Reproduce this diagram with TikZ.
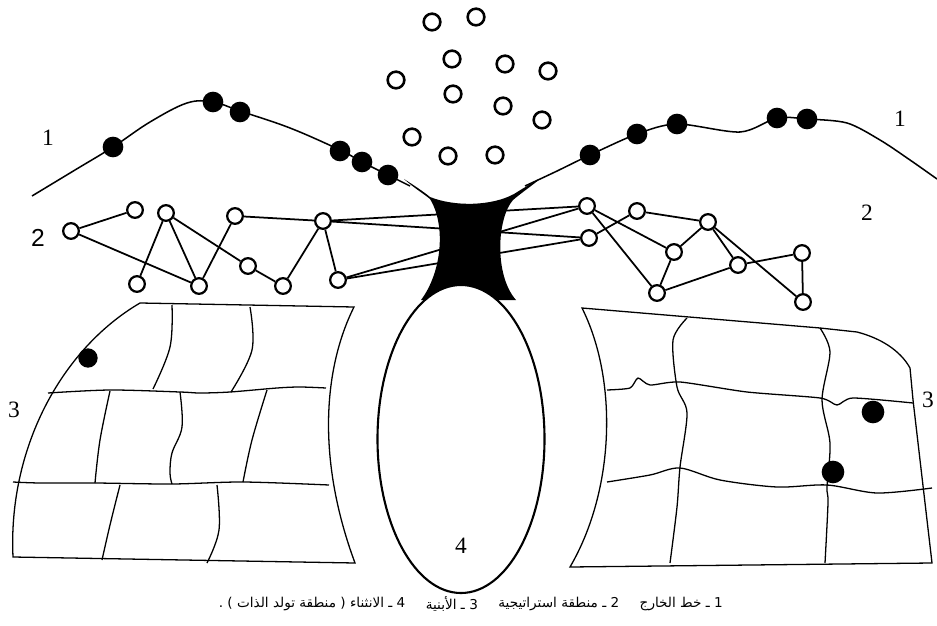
\documentclass[tikz,border=0pt]{standalone}
\usepackage{fontspec}
\setmainfont{Liberation Serif}
\setsansfont{Liberation Sans}
\newfontfamily\arabicfont[Script=Arabic]{DejaVu Sans}
\TeXXeTstate=1
\usetikzlibrary{shapes.geometric}
\begin{document}
\begin{tikzpicture}[x=0.03cm,y=-0.03cm,
  blackdot/.style={circle,fill=black,inner sep=0pt,minimum size=0.62cm},
  ring/.style={circle,draw,line width=2.2pt,inner sep=0pt,minimum size=0.5cm},
  netnode/.style={circle,draw,fill=white,line width=1.9pt,inner sep=0pt,minimum size=0.47cm},
  netline/.style={line width=1.5pt},
  rimline/.style={line width=1.3pt},
  gridline/.style={line width=1.1pt},
  numlbl/.style={font=\fontsize{20}{20}\selectfont,inner sep=0pt},
  captxt/.style={font=\arabicfont\fontsize{11.6}{14}\selectfont,inner sep=0pt,anchor=east}
]
\useasboundingbox (0,0) rectangle (937,626);
\fill[white] (0,0) rectangle (937,626);

% ---- line 1 (outside line)
\draw[rimline] plot[smooth,tension=0.6] coordinates {(32,196) (75,170) (113,147) (150,122) (187,103) (213,102) (240,111) (290,128) (340,150) (362,162) (388,175) (410,186)};
\draw[rimline] plot[smooth,tension=0.5] coordinates {(525,186) (555,172) (590,155) (637,134) (677,124) (740,132) (777,118) (807,119) (847,123) (880,140) (910,160) (937,179)};

\node[blackdot] (l1) at (113,147) {};
\node[blackdot] (l2) at (213,102) {};
\node[blackdot] (l3) at (240,112) {};
\node[blackdot] (l4) at (340,151) {};
\node[blackdot] (l5) at (362,162) {};
\node[blackdot] (l6) at (388,175) {};
\node[blackdot] (r1) at (590,155) {};
\node[blackdot] (r2) at (637,134) {};
\node[blackdot] (r3) at (677,124) {};
\node[blackdot] (r4) at (777,118) {};
\node[blackdot] (r5) at (807,119) {};

% ---- free circles at the top
\node[ring] (h1) at (432,22) {};
\node[ring] (h2) at (476,17) {};
\node[ring] (h3) at (452,59) {};
\node[ring] (h4) at (505,64) {};
\node[ring] (h5) at (548,71) {};
\node[ring] (h6) at (396,80) {};
\node[ring] (h7) at (453,94) {};
\node[ring] (h8) at (503,106) {};
\node[ring] (h9) at (542,120) {};
\node[ring] (h10) at (412,137) {};
\node[ring] (h11) at (448,156) {};
\node[ring] (h12) at (495,155) {};

% ---- network nodes
\node[netnode] (a) at (71,231) {};
\node[netnode] (b) at (135,210) {};
\node[netnode] (c) at (166,213) {};
\node[netnode] (d) at (137,284) {};
\node[netnode] (e) at (199,286) {};
\node[netnode] (f) at (235,216) {};
\node[netnode] (g) at (248,266) {};
\node[netnode] (h) at (283,286) {};
\node[netnode] (i) at (323,221) {};
\node[netnode] (j) at (338,280) {};
\node[netnode] (R1) at (587,206) {};
\node[netnode] (R2) at (589,238) {};
\node[netnode] (R3) at (637,211) {};
\node[netnode] (R4) at (674,252) {};
\node[netnode] (R5) at (708,222) {};
\node[netnode] (R6) at (738,265) {};
\node[netnode] (R7) at (657,293) {};
\node[netnode] (R8) at (802,253) {};
\node[netnode] (R9) at (803,302) {};

\draw[netline] (a) -- (b);
\draw[netline] (a) -- (e);
\draw[netline] (c) -- (d);
\draw[netline] (c) -- (e);
\draw[netline] (c) -- (g);
\draw[netline] (f) -- (e);
\draw[netline] (g) -- (h);
\draw[netline] (h) -- (i);
\draw[netline] (i) -- (j);
\draw[netline] (f) -- (i);
\draw[netline] (i) -- (R1);
\draw[netline] (i) -- (R2);
\draw[netline] (j) -- (R1);
\draw[netline] (j) -- (R2);
\draw[netline] (R1) -- (R7);
\draw[netline] (R1) -- (R4);
\draw[netline] (R2) -- (R3);
\draw[netline] (R3) -- (R5);
\draw[netline] (R4) -- (R5);
\draw[netline] (R4) -- (R7);
\draw[netline] (R5) -- (R6);
\draw[netline] (R5) -- (R9);
\draw[netline] (R7) -- (R6);
\draw[netline] (R6) -- (R8);
\draw[netline] (R8) -- (R9);

% ---- black neck
\fill[black] (404,179) .. controls (415,186) and (424,192) .. (430,197)
  .. controls (455,207) and (492,206) .. (514,194)
  .. controls (522,189) and (530,184) .. (540,179)
  .. controls (530,187) and (520,194) .. (513,200)
  .. controls (497,218) and (494,275) .. (516,300)
  -- (421,300)
  .. controls (442,272) and (446,225) .. (430,199)
  .. controls (424,194) and (414,188) .. (404,179) -- cycle;

% ---- fold (ellipse)
\node[ellipse,draw,fill=white,line width=1.8pt,inner sep=0pt,minimum width=5.01cm,minimum height=9.24cm] (core) at (461,439) {};

% ---- left structures
\draw[gridline] (140,303) -- (354,307) .. controls (325,365) and (315,455) .. (355,563) -- (13,557) .. controls (8,450) and (60,350) .. (140,303) -- cycle;
\draw[gridline] plot[smooth,tension=0.5] coordinates {(48,393) (110,390) (180,392) (200,393) (230,392) (277,388) (300,387) (326,388)};
\draw[gridline] plot[smooth,tension=0.5] coordinates {(13,482) (40,483) (95,483) (172,484) (243,482) (329,485)};
\draw[gridline] plot[smooth,tension=0.6] coordinates {(172,305) (170,347) (153,389)};
\draw[gridline] plot[smooth,tension=0.6] coordinates {(250,307) (252,350) (231,392)};
\draw[gridline] plot[smooth,tension=0.6] coordinates {(110,391) (100,440) (95,483)};
\draw[gridline] plot[smooth,tension=0.6] coordinates {(180,392) (182,427) (172,453) (170,473) (172,484)};
\draw[gridline] plot[smooth,tension=0.6] coordinates {(267,390) (252,440) (243,482)};
\draw[gridline] plot[smooth,tension=0.6] coordinates {(120,485) (110,525) (102,560)};
\draw[gridline] plot[smooth,tension=0.6] coordinates {(217,485) (219,530) (207,563)};
\node[blackdot,minimum size=0.58cm] (g1) at (88,358) {};

% ---- right structures
\draw[gridline] (582,308) -- (820,328) -- (857,332) .. controls (880,338) and (900,350) .. (910,368) -- (913,400) -- (932,563) -- (570,567) .. controls (615,490) and (618,380) .. (582,308) -- cycle;
\draw[gridline] plot[smooth,tension=0.4] coordinates {(607,390) (630,388) (638,378) (650,385) (680,382) (747,392) (820,398) (837,405) (853,398) (913,403)};
\draw[gridline] plot[smooth,tension=0.5] coordinates {(607,482) (650,475) (680,468) (720,480) (777,487) (827,485) (877,493) (932,488)};
\draw[gridline] plot[smooth,tension=0.5] coordinates {(687,318) (673,340) (677,387) (687,413) (680,467) (677,507) (670,563)};
\draw[gridline] plot[smooth,tension=0.5] coordinates {(820,328) (830,352) (822,400) (830,443) (827,487) (828,503) (825,563)};
\node[blackdot,minimum size=0.68cm] (g2) at (873,412) {};
\node[blackdot,minimum size=0.68cm] (g3) at (833,472) {};

% ---- labels
\node[numlbl] (n1l) at (48,138) {1};
\node[numlbl] (n1r) at (900,119) {1};
\node[numlbl,font=\sffamily\fontsize{21}{21}\selectfont] (n2l) at (38,238) {2};
\node[numlbl] (n2r) at (867,213) {2};
\node[numlbl] (n3l) at (14,410) {3};
\node[numlbl] (n3r) at (928,400) {3};
\node[numlbl] (n4) at (461,546) {4};

% ---- caption
\node[captxt] (c1) at (723,604) {\beginR 1 ـ خط الخارج\endR};
\node[captxt] (c2) at ([xshift=-0.6cm]c1.west) {\beginR 2 ـ منطقة استراتيجية\endR};
\node[captxt] (c3) at ([xshift=-0.6cm]c2.west) {\beginR 3 ـ الأبنية\endR};
\node[captxt] (c4) at ([xshift=-0.6cm]c3.west) {\beginR 4 ـ الانثناء ( منطقة تولد الذات ) .\endR};
\end{tikzpicture}
\end{document}
